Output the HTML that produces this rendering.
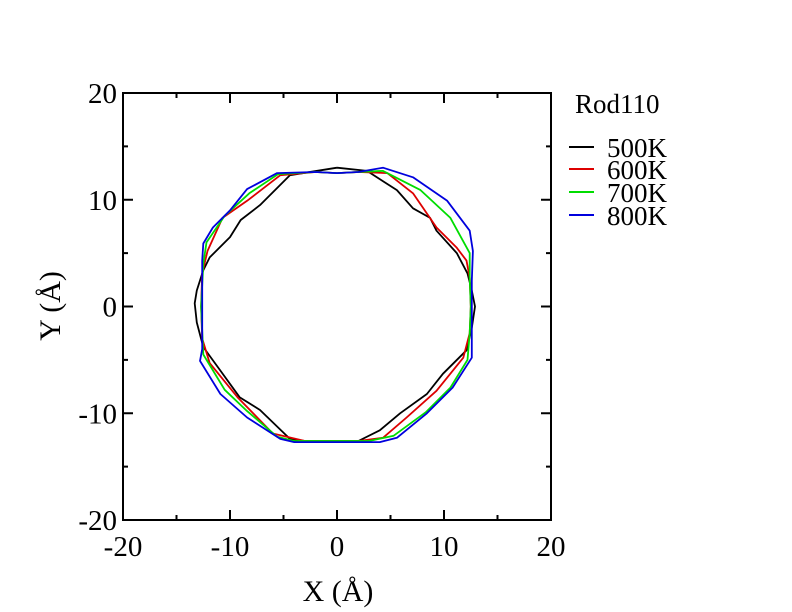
<!DOCTYPE html>
<html><head><meta charset="utf-8"><style>
body{margin:0;background:#fff}
svg{display:block;font-family:"Liberation Serif",serif}
</style></head><body>
<svg id="chart" width="792" height="612">
<rect x="123" y="93" width="428" height="427" fill="none" stroke="#000" stroke-width="2"/>
<g id="ticks"></g>
<g id="series"></g>
<text x="338" y="601" font-size="30" text-anchor="middle">X (Å)</text>
<text transform="translate(60,306) rotate(-90)" font-size="30" text-anchor="middle">Y (Å)</text>
<g>
<text x="575" y="113" font-size="27">Rod110</text>
</g>
<g id="legend"></g>
</svg>
<script>
const tickValues=[-20,-10,0,10,20];
const tickLabels=["-20","-10","0","10","20"];
const seriesNames=["500K","600K","700K","800K"];
const seriesColors=["#000000","#dd0000","#00dd00","#0000dd"];
const x500=[0,2.8,5.6,7.1,8.7,9.3,11.2,12.2,12.6,12.9,12.6,12.1,9.9,8.4,5.9,4.0,2,0,-3,-4.4,-7.2,-9.1,-10.9,-12.5,-13.1,-13.3,-13.1,-12.5,-11.9,-10,-9,-7.2,-4.4,0];
const y500=[13,12.7,10.9,9.2,8.3,7.1,5.0,3.1,1.5,0,-2.0,-4.1,-6.3,-8.2,-10.0,-11.6,-12.6,-12.6,-12.6,-12.4,-9.7,-8.5,-6.0,-3.8,-1.5,0.3,1.5,3.4,4.6,6.5,8.1,9.5,12.3,13];
const x600=[0,2,4.7,7.1,9.3,11.2,12.1,12.4,12.5,12.4,11.8,9.3,6.5,4.3,2,0,-3,-6,-9.3,-11.9,-12.6,-12.7,-12.6,-12.1,-10.7,-8.4,-5.3,-2,0];
const y600=[12.5,12.6,12.5,10.6,7.4,5.5,4.3,2.7,0,-2.5,-4.8,-7.9,-10.4,-12.3,-12.6,-12.6,-12.6,-11.9,-8.5,-5.3,-3,0,3.1,5.2,8.3,9.9,12.3,12.6,12.5];
const x700=[0,2,4.3,7.8,10.6,12.4,12.4,12.5,12.4,12.2,10.6,8.3,5.3,3,0,-4,-5.6,-8.4,-10.5,-12.5,-12.7,-12.5,-12.2,-10.5,-8.2,-5.5,-2,0];
const y700=[12.5,12.6,12.7,10.9,8.3,5.0,2.7,0,-2.5,-5.0,-7.6,-9.9,-12.1,-12.6,-12.6,-12.6,-12.2,-9.8,-7.8,-4.5,0,4,6.0,8.5,10.6,12.4,12.6,12.5];
const x800=[0,2,4.3,7.1,10.3,12.4,12.7,12.6,12.6,12.6,12.6,10.8,8.4,5.6,4,0,-4,-5.3,-8.4,-10.9,-12.8,-12.6,-12.6,-12.6,-12.5,-11.6,-10,-8.4,-5.6,-2,0];
const y800=[12.5,12.6,13.0,12.1,9.9,7.1,5.2,2.4,0,-3,-4.8,-7.6,-10.0,-12.3,-12.7,-12.7,-12.7,-12.4,-10.4,-8.2,-5.1,-4,0,4.3,5.9,7.4,9.0,11.0,12.5,12.6,12.5];
const seriesX=[x500,x600,x700,x800], seriesY=[y500,y600,y700,y800];
const NS="http://www.w3.org/2000/svg";
const sx=v=>337+v*10.7, sy=v=>306.5-v*10.675;
const tg=document.getElementById('ticks');
function mk(tag,attrs,parent){const e=document.createElementNS(NS,tag);for(const k in attrs)e.setAttribute(k,attrs[k]);parent.appendChild(e);return e;}
for(let v=-20;v<=20;v+=5){
 const major=v%10===0, L=major?10:5;
 let e=mk('line',{x1:sx(v),x2:sx(v),y1:520,y2:520-L,stroke:'#000','stroke-width':2},tg);
 
 
 e=mk('line',{x1:sx(v),x2:sx(v),y1:93,y2:93+L,stroke:'#000','stroke-width':2},tg);
 
 
 e=mk('line',{y1:sy(v),y2:sy(v),x1:123,x2:123+L,stroke:'#000','stroke-width':2},tg);
 
 
 e=mk('line',{y1:sy(v),y2:sy(v),x1:551,x2:551-L,stroke:'#000','stroke-width':2},tg);
 
 
}
tickValues.forEach((v,i)=>{
 let t=mk('text',{x:sx(v),y:556,'font-size':29,'text-anchor':'middle'},tg);t.textContent=tickLabels[i];
 
 
 t=mk('text',{x:117,y:sy(v)+10,'font-size':29,'text-anchor':'end'},tg);t.textContent=tickLabels[i];
 
 
});
const sg=document.getElementById('series'), lg=document.getElementById('legend');
seriesNames.forEach((n,i)=>{
 const pts=seriesX[i].map((x,j)=>sx(x).toFixed(1)+','+sy(seriesY[i][j]).toFixed(1)).join(' ');
 const p=mk('polyline',{points:pts,fill:'none',stroke:seriesColors[i],'stroke-width':1.8,'stroke-linejoin':'round'},sg);
 
 
 const yy=[147,169,192,215][i];
 const l=mk('line',{x1:569,x2:594,y1:yy,y2:yy,stroke:seriesColors[i],'stroke-width':2},lg);
 
 
 const t=mk('text',{x:607,y:yy+10,'font-size':27},lg);t.textContent=n;
 
 
});
</script>
</body></html>
